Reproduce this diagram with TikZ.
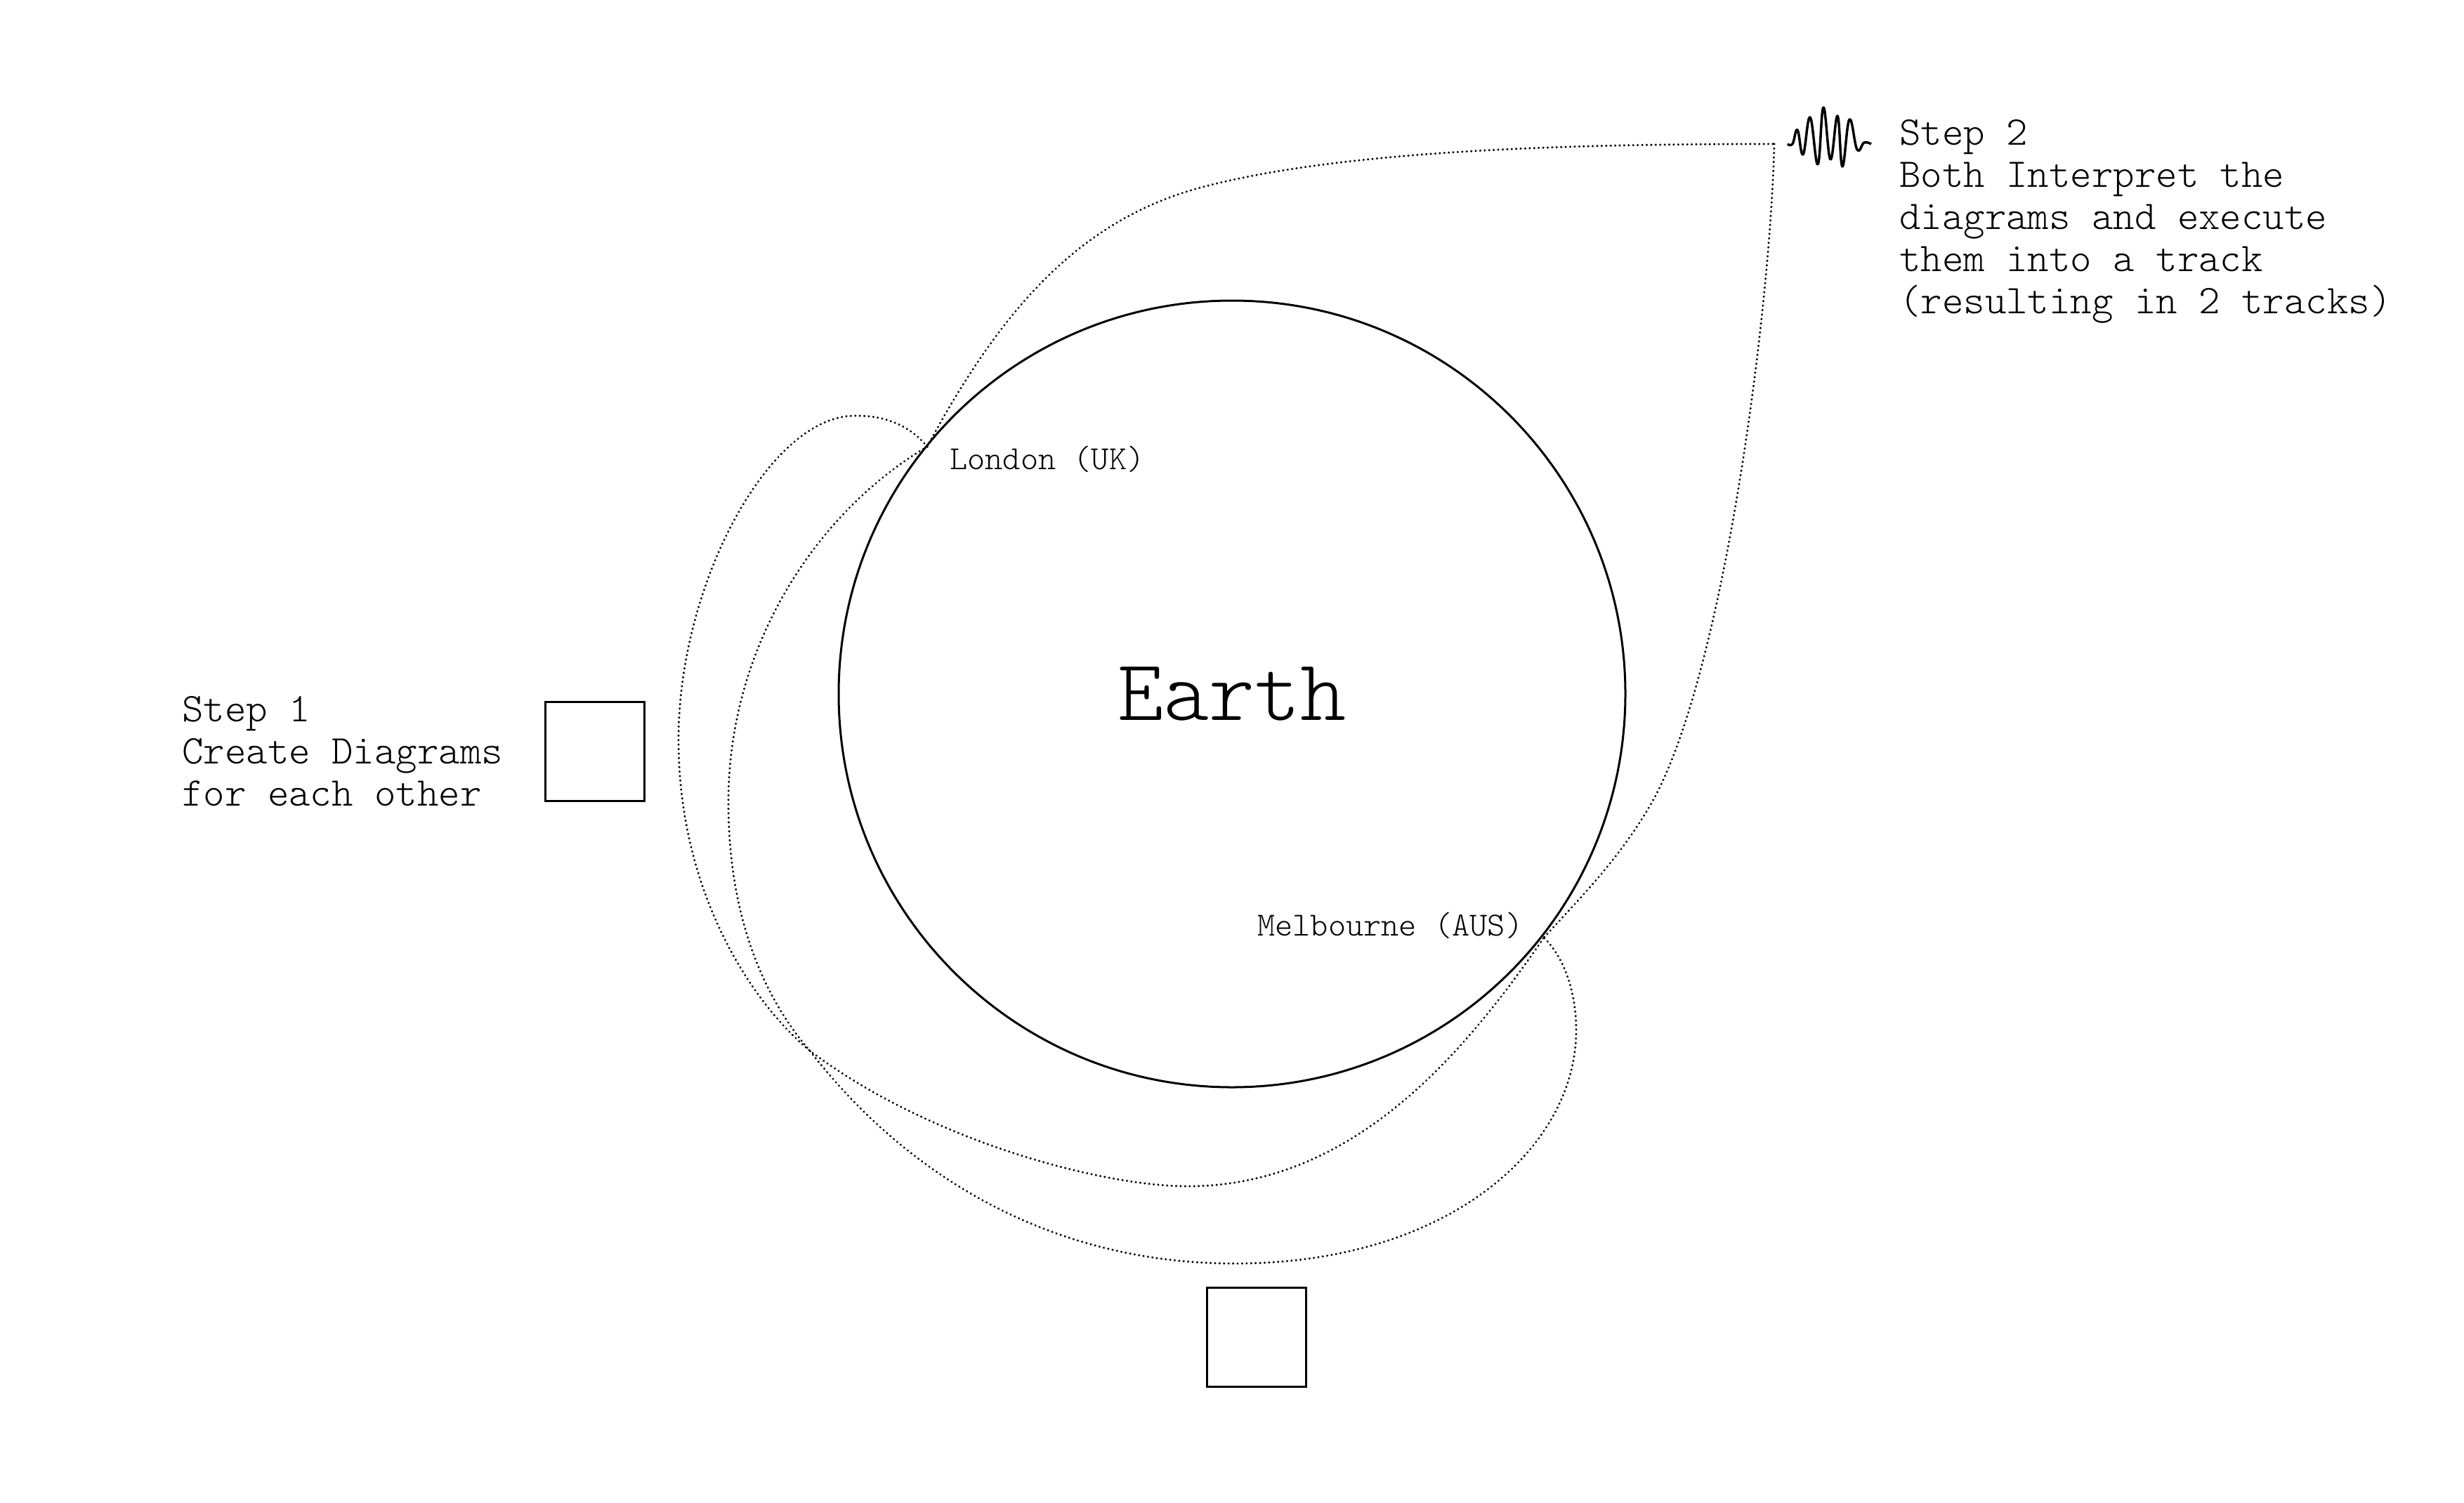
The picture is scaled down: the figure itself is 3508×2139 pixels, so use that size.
\documentclass[tikz,border=0pt]{standalone}
\newcommand{\lightmono}[1]{\fontsize{#1}{60}\fontseries{l}\ttfamily\selectfont}

\begin{document}
\begin{tikzpicture}[x=1pt, y=-1pt,
    earth/.style = {draw, circle, line width=3pt, minimum size=1120pt, inner sep=0pt, font=\lightmono{124}},
    box/.style = {draw, rectangle, line width=3pt, minimum size=141pt, inner sep=0pt},
    steptext/.style = {anchor=west, align=left, inner sep=0pt, font=\lightmono{58}},
    city/.style = {anchor=west, inner sep=0pt, font=\lightmono{48}},
    trail/.style = {line width=3.4pt, line cap=round, dash pattern=on 0.01pt off 6.4pt},
    wave/.style = {line width=3.5pt, line join=round}]
        \useasboundingbox (0,0) rectangle (3508,2139);
        \node [earth] (earth) at (1754, 988) {Earth};
        \node [box] (boxleft) at (847, 1070) {};
        \node [box] (boxbottom) at (1789, 1904) {};
        \node [steptext] (step1) at (259, 1070) {Step 1\\Create Diagrams\\for each other};
        \node [steptext] (step2) at (2704, 315) {Step 2\\Both Interpret the\\diagrams and execute\\them into a track\\(resulting in 2 tracks)};
        \node [city] (londonlabel) at (1352, 654) {London (UK)};
        \node [city] (melbournelabel) at (1790, 1318) {Melbourne (AUS)};
        \coordinate (london) at (1320, 636);
        \coordinate (melbourne) at (2198, 1335);
        \coordinate (corner) at (2526, 205);
        \draw[trail] (london) .. controls (1433,425) and (1546,314) .. (1702,269)
            .. controls (1904,213) and (2240,205) .. (corner);
        \draw[trail] (corner) .. controls (2520,448) and (2453,963) .. (2352,1142)
            .. controls (2307,1221) and (2251,1277) .. (melbourne);
        \draw[trail] (london) .. controls (1299,610) and (1266,592) .. (1221,592)
            .. controls (1098,587) and (966,829) .. (966,1053)
            .. controls (966,1277) and (1076,1433) .. (1153,1496)
            .. controls (1322,1624) and (1568,1689) .. (1691,1689)
            .. controls (1926,1689) and (2084,1501) .. (melbourne);
        \draw[trail] (london) .. controls (1164,728) and (1037,918) .. (1037,1142)
            .. controls (1037,1322) and (1098,1433) .. (1153,1496)
            .. controls (1277,1657) and (1478,1799) .. (1758,1799)
            .. controls (2061,1799) and (2244,1635) .. (2244,1467)
            .. controls (2244,1411) and (2226,1362) .. (melbourne);
        \draw[wave] plot[smooth, tension=0.7] coordinates {(2545,205) (2552,205) (2559,185) (2567,220) (2577,167) (2588,234) (2596,153) (2606,227) (2616,165) (2623,237) (2633,170) (2644,213) (2654,203) (2664,205)};
\end{tikzpicture}
\end{document}
